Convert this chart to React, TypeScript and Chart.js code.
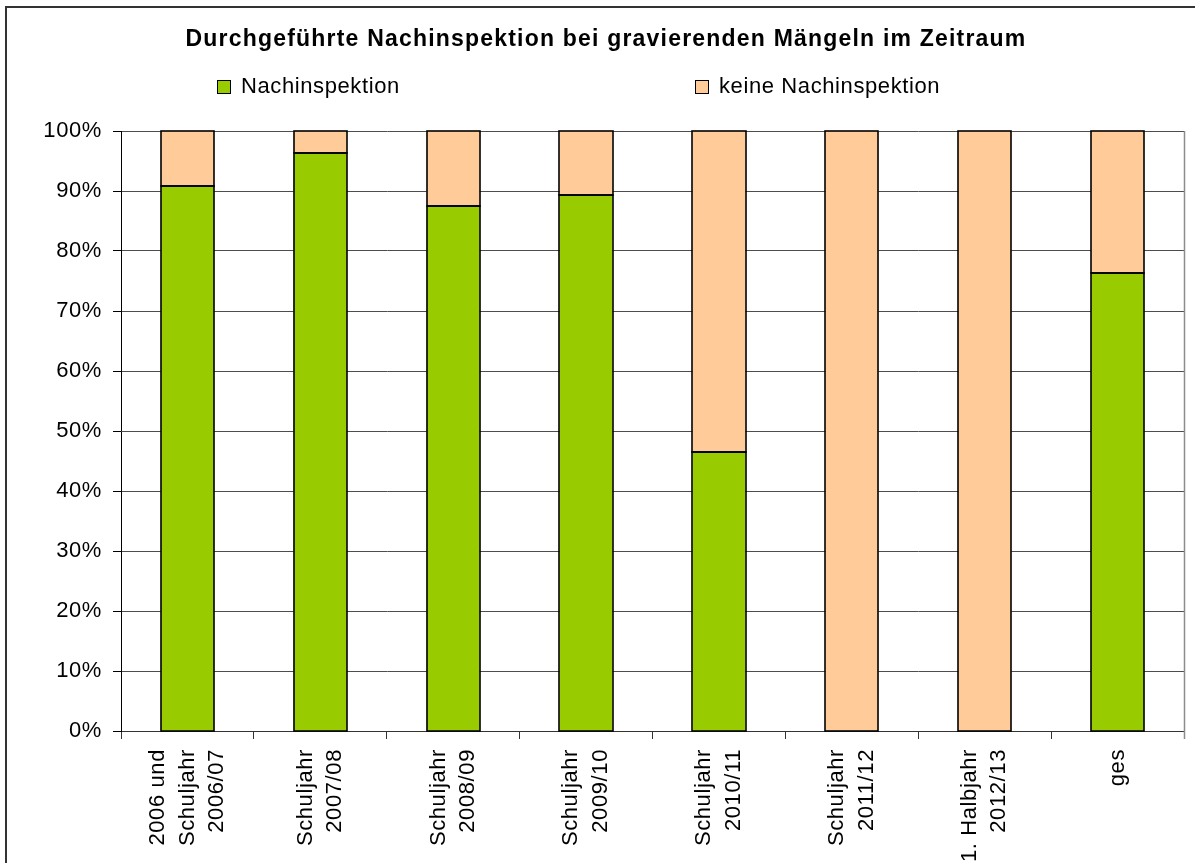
import React, { useEffect, useRef } from 'react';
import { Chart, registerables } from 'chart.js';

Chart.register(...registerables);

// ---------- data ----------
const categories: string[][] = [
  ['2006 und', 'Schuljahr', '2006/07'],
  ['Schuljahr', '2007/08'],
  ['Schuljahr', '2008/09'],
  ['Schuljahr', '2009/10'],
  ['Schuljahr', '2010/11'],
  ['Schuljahr', '2011/12'],
  ['1. Halbjahr', '2012/13'],
  ['ges'],
];
const seriesLabels = ['Nachinspektion', 'keine Nachinspektion'];
const nachinspektion = [90.8, 96.4, 87.5, 89.4, 46.5, 0, 0, 76.4];
const keineNachinspektion = [9.2, 3.6, 12.5, 10.6, 53.5, 100, 100, 23.6];
const titleText = 'Durchgeführte Nachinspektion bei gravierenden Mängeln im Zeitraum';
const yMin = 0;
const yMax = 100;
const yStep = 10;

// ---------- style ----------
const FONT = "'Liberation Sans', Arial, Helvetica, sans-serif";
const GREEN = '#99CC00';
const ORANGE = '#FFCC99';
const LEGEND_BOX_X = [217, 695];
const LEGEND_Y = 87;
const TEXT_SPACING = '0.6px';
const TITLE_SPACING = '1.2px';
const BAR_OUTLINE = '#000000';
const BAR_OUTLINE_WIDTH = 1.6;

const customPlugin = {
  id: 'customLook',
  beforeDraw(chart: any) {
    const ctx = chart.ctx;
    ctx.save();
    ctx.fillStyle = '#ffffff';
    ctx.fillRect(0, 0, chart.width, chart.height);
    ctx.strokeStyle = '#333333';
    ctx.lineWidth = 2;
    ctx.strokeRect(6, 7, chart.width + 50, chart.height + 50);
    ctx.restore();
    ctx.letterSpacing = TEXT_SPACING;

    // center multi-line rotated category labels on their tick
    const xs = chart.scales.x;
    const items = xs.getLabelItems();
    items.forEach((it: any) => {
      if (it._centered) return;
      const n = Array.isArray(it.label) ? it.label.length : 1;
      it.options.translation[0] -= ((n - 1) * it.font.lineHeight) / 2;
      it._centered = true;
    });

    const tb = chart.titleBlock;
    if (tb && !tb._spaced) {
      const orig = tb.draw.bind(tb);
      tb.draw = (...args: any[]) => {
        const c = tb.ctx;
        const prev = c.letterSpacing;
        c.letterSpacing = TITLE_SPACING;
        orig(...args);
        c.letterSpacing = prev;
      };
      tb._spaced = true;
    }
  },
  afterDatasetsDraw(chart: any) {
    // crisp outlines around every bar segment, taken from the bar elements
    const ctx = chart.ctx;
    ctx.save();
    ctx.strokeStyle = BAR_OUTLINE;
    ctx.lineWidth = BAR_OUTLINE_WIDTH;
    chart.data.datasets.forEach((_ds: any, i: number) => {
      const meta = chart.getDatasetMeta(i);
      meta.data.forEach((bar: any) => {
        const { x, y, base, width } = bar.getProps(['x', 'y', 'base', 'width'], true);
        const top = Math.min(y, base);
        const bottom = Math.max(y, base);
        if (bottom - top < 0.5) return;
        const l = Math.round(x - width / 2);
        const r = Math.round(x + width / 2);
        const t = Math.round(top);
        const b = Math.round(bottom);
        ctx.strokeRect(l, t, r - l, b - t);
      });
    });
    ctx.restore();
  },
  afterDraw(chart: any) {
    const ctx = chart.ctx;
    const area = chart.chartArea;
    ctx.save();
    // right border of plot area
    ctx.strokeStyle = '#8c8c8c';
    ctx.lineWidth = 1.5;
    ctx.beginPath();
    ctx.moveTo(Math.round(area.right) + 0.5, area.top);
    ctx.lineTo(Math.round(area.right) + 0.5, area.bottom + 8);
    ctx.stroke();

    // legend
    ctx.letterSpacing = TEXT_SPACING;
    ctx.font = `22px ${FONT}`;
    ctx.textBaseline = 'middle';
    ctx.textAlign = 'left';
    chart.data.datasets.forEach((ds: any, i: number) => {
      const x = LEGEND_BOX_X[i];
      ctx.fillStyle = ds.backgroundColor;
      ctx.fillRect(x, LEGEND_Y - 7, 14, 14);
      ctx.strokeStyle = '#000';
      ctx.lineWidth = 1;
      ctx.strokeRect(x + 0.5, LEGEND_Y - 6.5, 13, 13);
      ctx.fillStyle = '#000';
      ctx.fillText(ds.label, x + 24, LEGEND_Y);
    });
    ctx.restore();
    ctx.letterSpacing = '0px';
  },
};

export default function App() {
  const ref = useRef<HTMLCanvasElement>(null);

  useEffect(() => {
    if (!ref.current) return;
    const chart = new Chart(ref.current, {
      type: 'bar',
      data: {
        labels: categories,
        datasets: [
          {
            label: seriesLabels[0],
            data: nachinspektion,
            backgroundColor: GREEN,
            borderWidth: 0,
            inflateAmount: 0,
            barPercentage: 0.4,
            categoryPercentage: 1.0,
          },
          {
            label: seriesLabels[1],
            data: keineNachinspektion,
            backgroundColor: ORANGE,
            borderWidth: 0,
            inflateAmount: 0,
            barPercentage: 0.4,
            categoryPercentage: 1.0,
          },
        ],
      },
      options: {
        responsive: false,
        animation: false,
        devicePixelRatio: 1,
        layout: { padding: { left: 28, right: 11, top: 0, bottom: 0 } },
        plugins: {
          legend: { display: false },
          tooltip: { enabled: false },
          title: {
            display: true,
            text: titleText,
            color: '#000',
            font: { family: FONT, size: 23, weight: 'bold', lineHeight: 1.2 },
            padding: { top: 25.5, bottom: 77.9 },
          },
        },
        scales: {
          x: {
            stacked: true,
            offset: true,
            grid: {
              offset: true,
              drawOnChartArea: false,
              drawTicks: true,
              tickLength: 8,
              tickColor: '#333',
              color: '#333',
            },
            border: { display: true, color: '#333', width: 1 },
            ticks: {
              autoSkip: false,
              minRotation: 90,
              maxRotation: 90,
              padding: 10,
              color: '#000',
              font: { family: FONT, size: 22, lineHeight: 1.34 },
            },
            afterFit: (s: any) => {
              s.height = 132;
            },
          },
          y: {
            stacked: true,
            min: yMin,
            max: yMax,
            grid: {
              color: '#4d4d4d',
              lineWidth: 1,
              drawTicks: true,
              tickLength: 8,
              tickColor: '#000',
            },
            border: { display: true, color: '#000', width: 1 },
            ticks: {
              stepSize: yStep,
              padding: 11,
              color: '#000',
              font: { family: FONT, size: 22 },
              callback: (v: any) => `${v}%`,
            },
            afterFit: (s: any) => {
              s.width = 93;
            },
          },
        },
      },
      plugins: [customPlugin],
    } as any);
    return () => chart.destroy();
  }, []);

  return (
    <div style={{ position: 'fixed', left: 0, top: 0, width: 1195, height: 863, background: '#fff' }}>
      <canvas ref={ref} width={1195} height={863} />
    </div>
  );
}
